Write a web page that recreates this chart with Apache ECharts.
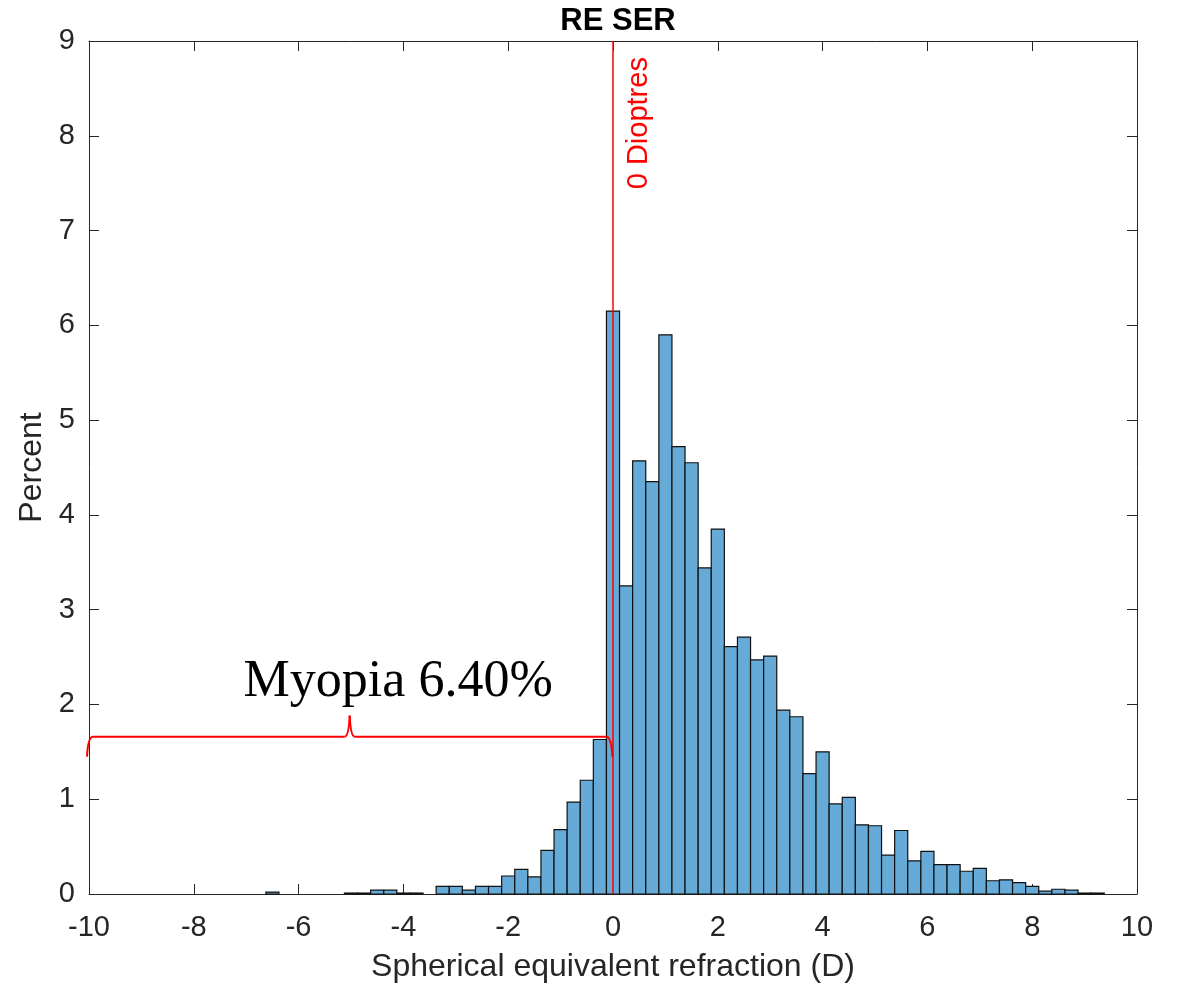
<!DOCTYPE html>
<html>
<head>
<meta charset="utf-8">
<title>RE SER</title>
<script src="https://cdn.jsdelivr.net/npm/echarts@6/dist/echarts.min.js"></script>
<style>
  html, body { margin: 0; padding: 0; background: #fff; }
  #chart { width: 1181px; height: 987px; }
</style>
</head>
<body>
<div id="chart"></div>
<script>
// histogram bins (centre of each 0.25 D bin) and the percent in each
var binCenters = [
  -6.5, -6.25, -6, -5.75, -5.5, -5.25, -5, -4.75, -4.5, -4.25, -4, -3.75, -3.5, -3.25, -3, -2.75,
  -2.5, -2.25, -2, -1.75, -1.5, -1.25, -1, -0.75, -0.5, -0.25, 0, 0.25, 0.5, 0.75, 1, 1.25,
  1.5, 1.75, 2, 2.25, 2.5, 2.75, 3, 3.25, 3.5, 3.75, 4, 4.25, 4.5, 4.75, 5, 5.25,
  5.5, 5.75, 6, 6.25, 6.5, 6.75, 7, 7.25, 7.5, 7.75, 8, 8.25, 8.5, 8.75, 9, 9.25
];
var percent = [
  0.02, 0, 0, 0, 0, 0, 0.01, 0.01, 0.04, 0.04, 0.01, 0.01, 0, 0.08, 0.08, 0.04,
  0.08, 0.08, 0.19, 0.26, 0.18, 0.46, 0.68, 0.97, 1.20, 1.63, 6.15, 3.25, 4.57, 4.35, 5.90, 4.72,
  4.55, 3.44, 3.85, 2.61, 2.71, 2.47, 2.51, 1.94, 1.87, 1.27, 1.50, 0.95, 1.02, 0.73, 0.72, 0.41,
  0.67, 0.35, 0.45, 0.31, 0.31, 0.24, 0.27, 0.14, 0.15, 0.12, 0.08, 0.03, 0.05, 0.04, 0.01, 0.01
];
var binWidth = 0.25;

var xTicks = [-10, -8, -6, -4, -2, 0, 2, 4, 6, 8, 10];
var yTicks = [0, 1, 2, 3, 4, 5, 6, 7, 8, 9];

// annotations
var zeroLine = 0;
var zeroLabel = "0 Dioptres";
var zeroLabelPos = [0.49, 8.83];
var myopiaLabel = "Myopia 6.40%";
var myopiaLabelPos = [-4.1, 2.23];
var braceFrom = -10;
var braceTo = -0.05;
var braceY = 1.66;

var axisColor = "#262626";
var font = "'Liberation Sans', Arial, Helvetica, sans-serif";

var histData = binCenters.map(function (c, i) { return [c, percent[i]]; });

var chart = echarts.init(document.getElementById("chart"));

function plainAxis(extra) {
  var base = {
    axisLine: { show: true, onZero: false, lineStyle: { color: axisColor, width: 1 } },
    axisTick: { show: true, inside: true, length: 10, lineStyle: { color: axisColor, width: 1 } },
    splitLine: { show: false },
    axisLabel: { show: false }
  };
  return Object.assign(base, extra);
}

chart.setOption({
  animation: false,
  backgroundColor: "#fff",
  title: {
    text: "RE SER",
    left: 613,
    top: 1,
    textAlign: "center",
    textStyle: { fontFamily: font, fontSize: 31, fontWeight: "bold", color: "#000" }
  },
  grid: {
    left: 89,
    right: 44,
    top: 41,
    bottom: 93,
    outerBoundsMode: "none"
  },
  xAxis: [
    plainAxis({
      type: "value",
      position: "bottom",
      min: xTicks[0],
      max: xTicks[xTicks.length - 1],
      interval: 2,
      name: "Spherical equivalent refraction (D)",
      nameLocation: "middle",
      nameGap: 57,
      nameTextStyle: { fontFamily: font, fontSize: 32, color: axisColor },
      axisLabel: {
        show: true, margin: 19, fontFamily: font, fontSize: 29, color: axisColor
      }
    }),
    plainAxis({
      type: "value",
      position: "top",
      min: xTicks[0],
      max: xTicks[xTicks.length - 1],
      interval: 2
    })
  ],
  yAxis: [
    plainAxis({
      type: "value",
      position: "left",
      min: yTicks[0],
      max: yTicks[yTicks.length - 1],
      interval: 1,
      name: "Percent",
      nameLocation: "middle",
      nameGap: 40,
      nameTextStyle: { fontFamily: font, fontSize: 32, color: axisColor },
      axisLabel: {
        show: true, margin: 14, fontFamily: font, fontSize: 29, color: axisColor
      }
    }),
    plainAxis({
      type: "value",
      position: "right",
      min: yTicks[0],
      max: yTicks[yTicks.length - 1],
      interval: 1
    })
  ],
  series: [
    {
      type: "custom",
      xAxisIndex: 0,
      yAxisIndex: 0,
      encode: { x: 0, y: 1 },
      data: histData,
      renderItem: function (params, api) {
        var c = api.value(0);
        var v = api.value(1);
        if (!v) return null;
        var p0 = api.coord([c - binWidth / 2, v]);
        var p1 = api.coord([c + binWidth / 2, 0]);
        return {
          type: "rect",
          shape: { x: p0[0], y: p0[1], width: p1[0] - p0[0], height: p1[1] - p0[1] },
          style: { fill: "#66aad7", stroke: "#111", lineWidth: 1.2 }
        };
      },
      markLine: {
        silent: true,
        symbol: "none",
        label: { show: false },
        lineStyle: { color: "#ff0000", width: 1.5, type: "solid" },
        data: [{ xAxis: zeroLine }]
      },
      z: 2
    }
  ]
});

// annotations placed through the axes' own scale
function px(pt) { return chart.convertToPixel({ gridIndex: 0 }, pt); }

var a = px([braceFrom, braceY]);
var b = px([braceTo, braceY]);
var m = px([(braceFrom + braceTo) / 2, braceY]);
var y = a[1];
var red = { fill: null, stroke: "#ff0000", lineWidth: 2 };

function curve(x1, y1, cx, cy, x2, y2) {
  return {
    type: "bezierCurve",
    shape: { x1: x1, y1: y1, cpx1: cx, cpy1: cy, x2: x2, y2: y2 },
    style: red, z: 10
  };
}
function seg(x1, y1, x2, y2) {
  return {
    type: "line",
    shape: { x1: x1, y1: y1, x2: x2, y2: y2 },
    style: red, z: 10
  };
}

var zl = px(zeroLabelPos);
var ml = px(myopiaLabelPos);

chart.setOption({
  graphic: [
    curve(a[0] - 2, y + 20, a[0] - 1, y, a[0] + 4, y),
    seg(a[0] + 4, y, m[0] - 5, y),
    curve(m[0] - 5, y, m[0] - 1, y, m[0], y - 21),
    curve(m[0], y - 21, m[0] + 1, y, m[0] + 5, y),
    seg(m[0] + 5, y, b[0] - 4, y),
    curve(b[0] - 4, y, b[0] + 1, y, b[0] + 2, y + 20),
    {
      type: "text",
      x: zl[0],
      y: zl[1],
      rotation: Math.PI / 2,
      style: {
        text: zeroLabel, fill: "#ff0000", font: "29px " + font,
        align: "right", verticalAlign: "middle"
      },
      z: 10
    },
    {
      type: "text",
      x: ml[0],
      y: ml[1],
      style: {
        text: myopiaLabel, fill: "#000",
        font: "52px 'Liberation Serif', 'DejaVu Serif', serif",
        align: "center", verticalAlign: "middle"
      },
      z: 10
    }
  ]
});
</script>
</body>
</html>
